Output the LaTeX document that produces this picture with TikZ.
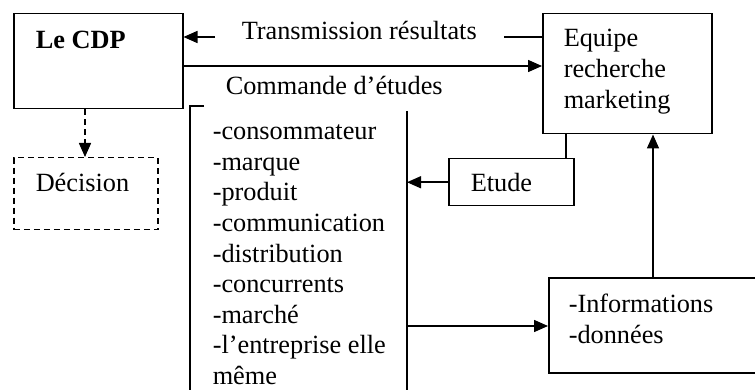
\documentclass[tikz,border=0pt]{standalone}
\usepackage{fontspec}
\setmainfont{Liberation Serif}
\usetikzlibrary{arrows.meta}
\begin{document}
\begin{tikzpicture}[x=1pt,y=-1pt, line width=1.5pt,
  box/.style={draw, anchor=north west, inner sep=0pt},
  dbox/.style={box, dash pattern=on 6pt off 4pt},
  txt/.style={anchor=base west, inner sep=0pt, font=\fontsize{26.3}{30}\selectfont},
  arr/.style={-{Triangle[length=14pt,width=12pt]}},
]
\useasboundingbox (0,0) rectangle (755,390);
\clip (0,0) rectangle (755,390);

% boxes
\node[box, minimum width=169pt, minimum height=95pt] (cdp) at (13,13) {};
\node[box, minimum width=169pt, minimum height=120pt] (equipe) at (542,13) {};
\node[dbox, minimum width=144pt, minimum height=72pt] (decision) at (13,157) {};
\node[box, minimum width=125pt, minimum height=47pt] (etude) at (448,158) {};
\node[box, minimum width=215pt, minimum height=95pt] (info) at (548,277) {};

% box texts
\node[txt, font=\fontsize{26.3}{30}\selectfont\bfseries] (cdplbl) at (35,49) {Le CDP};
\node[txt] (eq1) at (563,47) {Equipe};
\node[txt] (eq2) at (563,78) {recherche};
\node[txt] (eq3) at (563,109) {marketing};
\node[txt] (declbl) at (35,192) {Décision};
\node[txt] (etlbl) at (470,192) {Etude};
\node[txt] (in1) at (568,312) {-Informations};
\node[txt] (in2) at (568,343) {-données};

% flow labels
\node[txt] (trans) at (241,40) {Transmission résultats};
\node[txt] (cmd) at (225,95) {Commande d’études};

% list of study subjects
\foreach \t [count=\i] in {-consommateur,-marque,-produit,-communication,-distribution,-concurrents,-marché,-l’entreprise elle,même}
  \node[txt] (item\i) at ({212},{140+30.5*(\i-1)}) {\t};

% bracket and vertical collector line
\coordinate (brtop) at (204,106);
\coordinate (brcorner) at (190,106);
\coordinate (brbot) at (190,395);
\draw (brtop) -- (brcorner) -- (brbot);
\coordinate (vtop) at (407,111);
\coordinate (vbot) at (407,395);
\draw (vtop) -- (vbot);

% connectors
\coordinate (tr1) at (504,37);
\coordinate (tr2) at (215,37);
\draw (equipe.west |- tr1) -- (tr1);
\draw[arr] (tr2) -- (cdp.east |- tr2);
\coordinate (cm) at (300,66);
\draw[arr] (cdp.east |- cm) -- (equipe.west |- cm);
\draw[arr, dash pattern=on 6pt off 4pt] (cdp.south -| 85,0) -- (decision.north -| 85,0);
\draw[arr] (etude.west) -- (vtop |- etude.west);
\coordinate (eqlink) at (566,0);
\draw (equipe.south -| eqlink) -- (etude.north -| eqlink);
\coordinate (inlink) at (0,326);
\draw[arr] (vtop |- inlink) -- (info.west |- inlink);
\coordinate (uplink) at (653,0);
\draw[arr] (info.north -| uplink) -- (equipe.south -| uplink);
\end{tikzpicture}
\end{document}
